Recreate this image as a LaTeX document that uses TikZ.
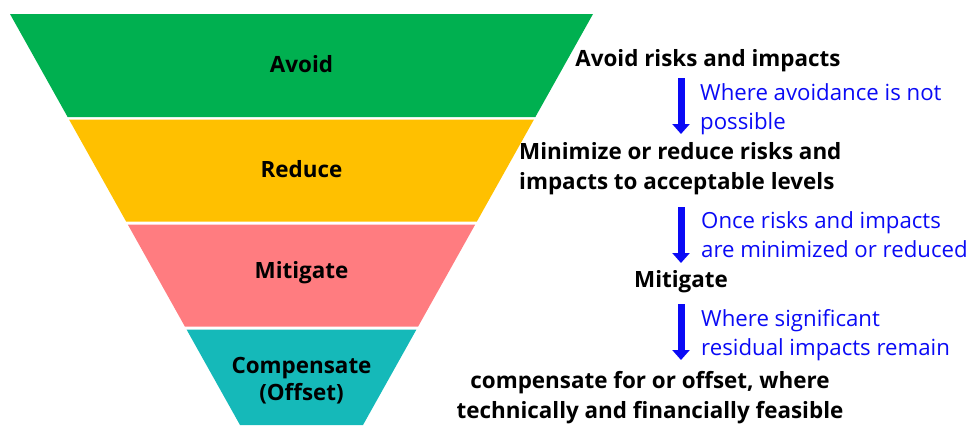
\documentclass[tikz,border=0pt]{standalone}
\usepackage{fontspec}
\setmainfont{Open Sans}
\usetikzlibrary{arrows.meta,positioning}
\definecolor{avoidgreen}{HTML}{00B050}
\definecolor{reduceyellow}{HTML}{FFC000}
\definecolor{mitigatepink}{HTML}{FF7C80}
\definecolor{offsetteal}{HTML}{15B9B9}
\definecolor{noteblue}{HTML}{0A0AF5}

\begin{document}
\begin{tikzpicture}[
  x=1bp,y=-1bp,
  level/.style={font=\fontsize{22.5}{27}\selectfont\bfseries,align=center,inner sep=0pt},
  stage/.style={font=\fontsize{22.5}{30}\selectfont\bfseries,align=left,inner sep=0pt},
  note/.style={font=\fontsize{22.3}{29}\selectfont,text=noteblue,align=left,
               anchor=west,inner sep=0pt},
  flow/.style={-{Triangle[length=10bp,width=17bp]},line width=7bp,draw=noteblue}
]
\useasboundingbox (0,0) rectangle (974,425);
% funnel bands: top y / bottom y / colour / label y / name / label
\foreach \ya/\yb/\col/\ly/\name/\txt in {
    14/117/avoidgreen/64/avoid/Avoid,
    119.5/221.5/reduceyellow/169/reduce/Reduce,
    224.5/326.5/mitigatepink/273/mitigate/Mitigate,
    329.5/425/offsetteal/381/offset/{Compensate\\(Offset)}}{
  \fill[\col] ({10+(\ya-14)*0.5596},\ya) -- ({593-(\ya-14)*0.5596},\ya)
    -- ({593-(\yb-14)*0.5596},\yb) -- ({10+(\yb-14)*0.5596},\yb) -- cycle;
  \node[level] (\name) at (301.5,\ly) {\txt};
}
% steps on the right
\node[stage] (avoidtxt) at (708,61) {Avoid risks and impacts};
\node[stage,anchor=west] (reducetxt) at (519,169) {Minimize or reduce risks and\\
  impacts to acceptable levels};
\node[stage] (mitigatetxt) at (681,282) {Mitigate};
\node[stage,align=center] (offsettxt) at (650,398) {compensate for or offset, where\\
  technically and financially feasible};
% conditions
\node[note] (cond1) at (700,109) {Where avoidance is not\\possible};
\node[note] (cond2) at (701,235) {Once risks and impacts\\are minimized or reduced};
\node[note] (cond3) at (701,335) {Where significant\\residual impacts remain};
\coordinate (a1s) at (681,78);  \coordinate (a1e) at (681,134);
\coordinate (a2s) at (681,207); \coordinate (a2e) at (681,263);
\coordinate (a3s) at (681,304); \coordinate (a3e) at (681,360);
\draw[flow] (a1s) -- (a1e);
\draw[flow] (a2s) -- (a2e);
\draw[flow] (a3s) -- (a3e);
\end{tikzpicture}
\end{document}
